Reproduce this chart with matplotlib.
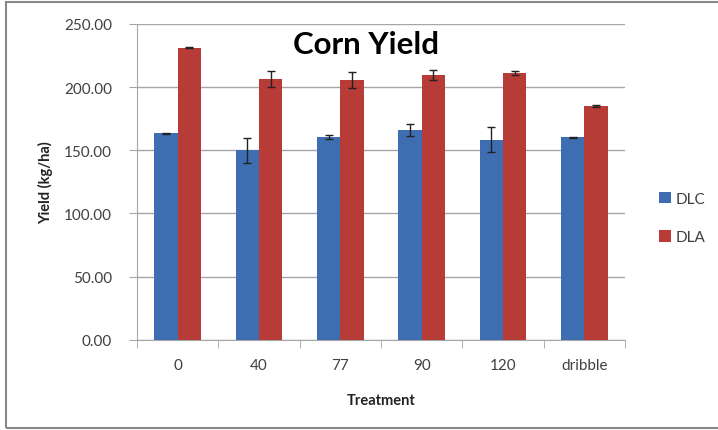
import numpy as np
import matplotlib.pyplot as plt
from matplotlib.patches import Rectangle

plt.rcParams['font.family'] = ['Lato', 'DejaVu Sans']

treatments = ['0', '40', '77', '90', '120', 'dribble']
dlc_yield = [163.3, 150.0, 160.6, 166.0, 158.5, 160.4]
dlc_err = [0.5, 10.0, 1.4, 4.7, 9.6, 0.5]
dla_yield = [231.1, 206.6, 205.6, 209.6, 211.2, 185.1]
dla_err = [0.5, 6.4, 6.0, 3.7, 1.3, 0.5]
y_ticks = [0, 50, 100, 150, 200, 250]

blue = '#3e6db2'
red = '#b73b37'
grid_col = '#a6a6a6'

fig = plt.figure(figsize=(7.18, 4.31), dpi=100)
ax = fig.add_axes([137 / 718, 1 - 340.7 / 431, (625 - 137) / 718, (340.7 - 25) / 431])

x = np.arange(len(treatments))
w = 0.285
ax.bar(x - w / 2, dlc_yield, w, color=blue, label='DLC', zorder=3,
       yerr=dlc_err, error_kw=dict(ecolor='#222222', elinewidth=1, capsize=3, capthick=1))
ax.bar(x + w / 2, dla_yield, w, color=red, label='DLA', zorder=3,
       yerr=dla_err, error_kw=dict(ecolor='#222222', elinewidth=1, capsize=3, capthick=1))

ax.set_xlim(-0.5, len(treatments) - 0.5)
ax.set_ylim(0, 250)
ax.set_yticks(y_ticks)
ax.set_yticklabels(['%.2f' % v for v in y_ticks])
ax.yaxis.grid(True, color=grid_col, linewidth=1, zorder=0)
ax.set_axisbelow(True)

ax.set_xticks(x)
ax.set_xticklabels(treatments)
ax.set_xticks(np.arange(len(treatments) + 1) - 0.5, minor=True)
ax.tick_params(axis='x', which='major', length=0, pad=13, labelsize=11, labelcolor='#404040')
ax.tick_params(axis='x', which='minor', length=6, color=grid_col, direction='out')
ax.tick_params(axis='y', length=6, color=grid_col, pad=12, labelsize=11, labelcolor='#404040')

for s in ['top', 'right']:
    ax.spines[s].set_visible(False)
for s in ['left', 'bottom']:
    ax.spines[s].set_color(grid_col)

ax.set_xlabel('Treatment', fontsize=10.5, fontweight='bold', labelpad=15, color='#222222')
ax.set_ylabel('Yield (kg/ha)', fontsize=10.5, fontweight='bold', labelpad=8, color='#222222')

fig.text(366 / 718, 1 - 45 / 431, 'Corn Yield', ha='center', va='center',
         fontsize=22.5, fontweight='bold')

fig.legend(loc='center left', bbox_to_anchor=(645 / 718, 1 - 219 / 431), frameon=False,
           handlelength=0.8, handleheight=0.8, handletextpad=0.3, labelspacing=1.6,
           fontsize=11, labelcolor='#404040')

fig.patches.append(Rectangle((6 / 718, 2 / 431), 1.2, 1 - 5 / 431, transform=fig.transFigure,
                             facecolor='none', edgecolor='#888888', linewidth=1.5))

fig.savefig('out.png', dpi=100)
